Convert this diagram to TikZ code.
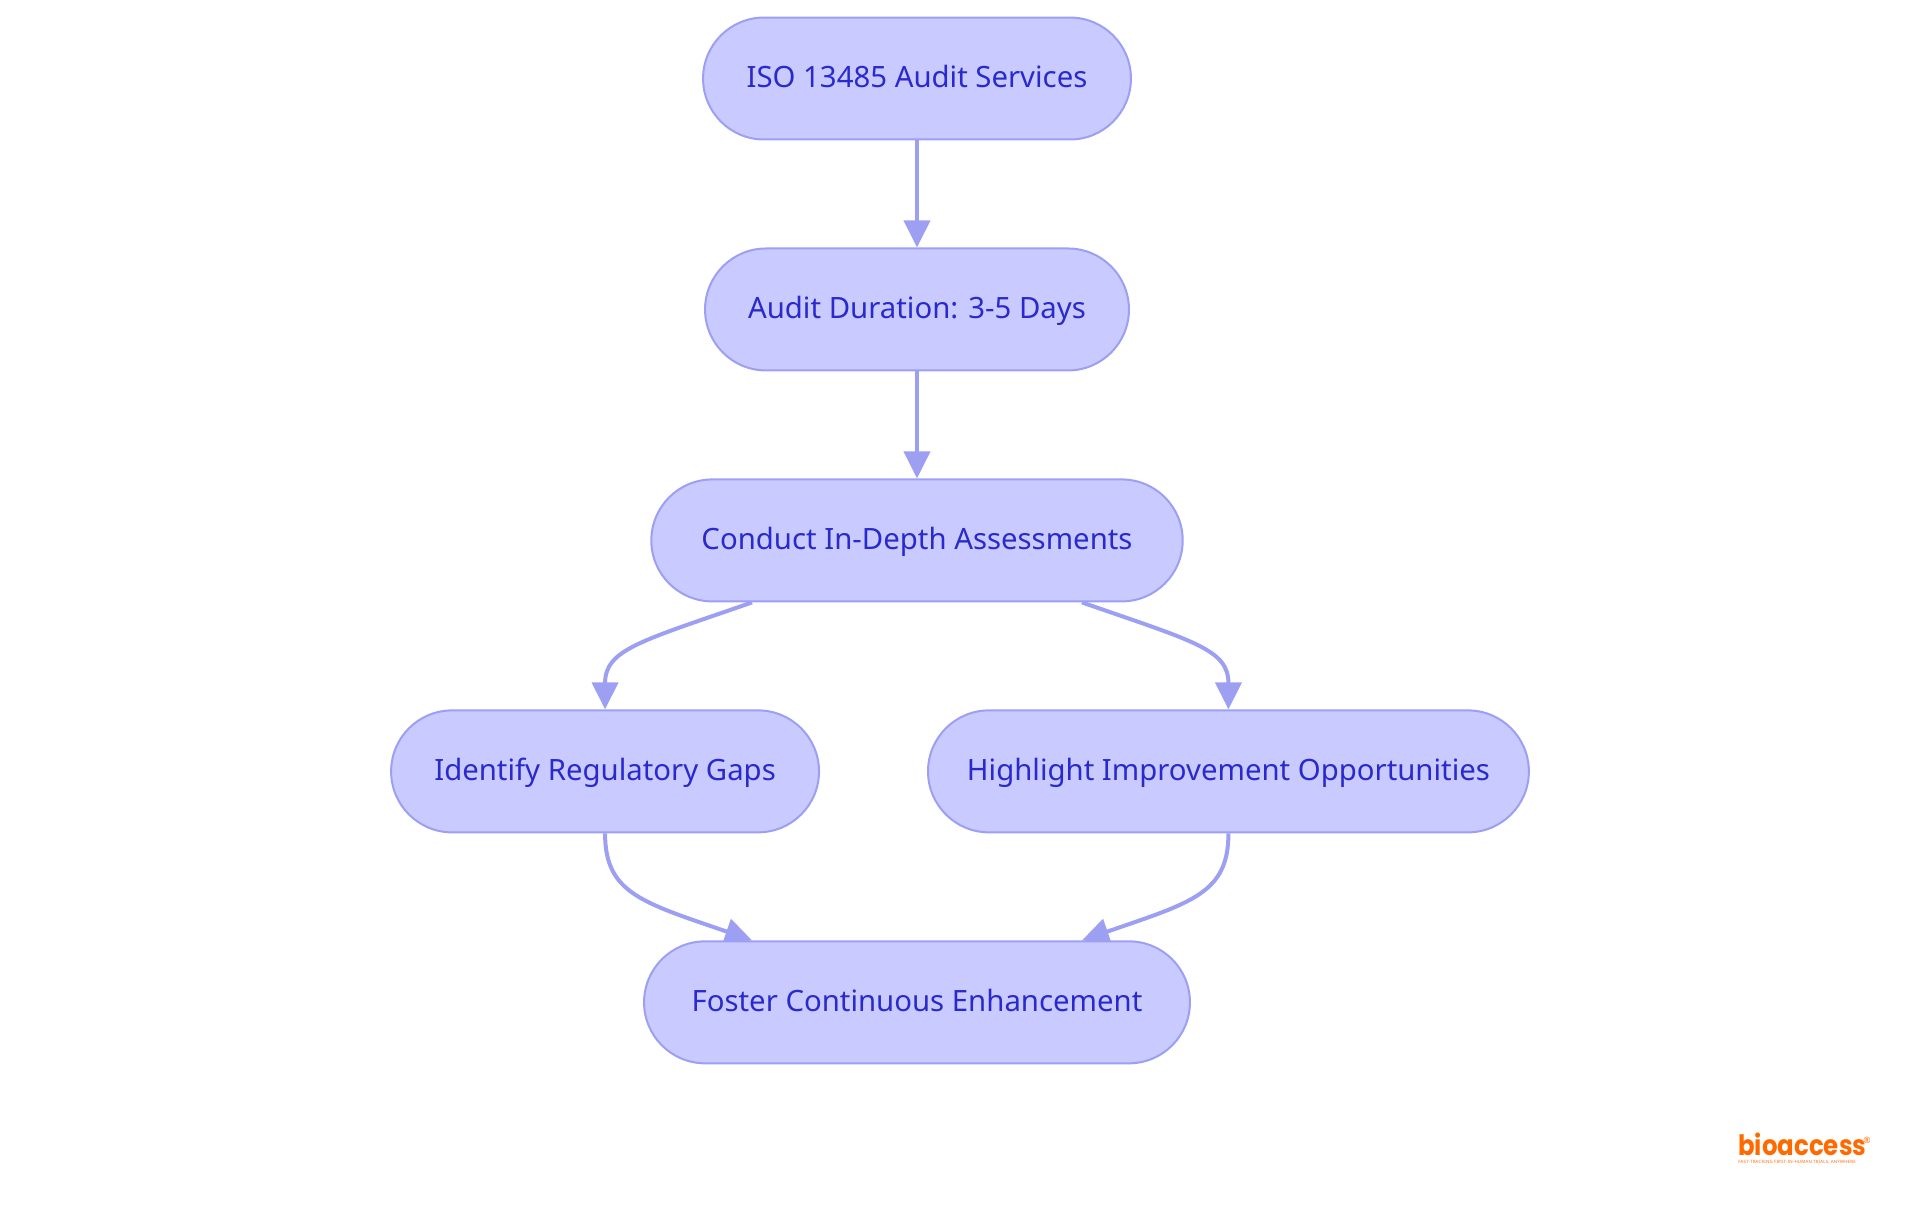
\documentclass[tikz,border=0pt]{standalone}
\usepackage{fontspec}
\setmainfont{Noto Sans}
\newfontfamily\logofont{Poppins}[UprightFont=* Bold,FakeStretch=0.87]
\newfontfamily\taglinefont{Noto Sans}[LetterSpace=4]
\usetikzlibrary{positioning,arrows.meta,backgrounds}
\definecolor{pillfill}{HTML}{C9CAFF}
\definecolor{pillline}{HTML}{9C9FF2}
\definecolor{pilltext}{HTML}{2A2ACC}
\definecolor{logoorange}{HTML}{FF6A00}

\begin{document}
\begin{tikzpicture}[
    x=0.02cm, y=-0.02cm,
    pill/.style={rectangle, draw=pillline, line width=0.04cm, fill=pillfill, rounded corners=1.22cm,
        minimum height=2.44cm, inner sep=0pt, text centered, text=pilltext,
        text height=0.5cm, text depth=0.14cm,
        font=\fontsize{16.7}{20}\selectfont},
    link/.style={draw=pillline, line width=0.08cm, -{Triangle[width=0.52cm,length=0.54cm]}},
    node distance=2.14cm
]
\useasboundingbox (0,0) rectangle (1920,1215);

\node [pill, minimum width=8.56cm] (services) at (917,78.5) {ISO 13485 Audit Services};
\node [pill, minimum width=8.48cm, below=of services] (duration) {Audit Duration: 3-5 Days};
\node [pill, minimum width=10.63cm, below=of duration] (conduct) {Conduct In-Depth Assessments};
\node [pill, minimum width=8.56cm, below=of conduct, xshift=-6.24cm] (gaps) {Identify Regulatory Gaps};
\node [pill, minimum width=12.02cm, below=of conduct, xshift=6.23cm] (highlight) {Highlight Improvement Opportunities};
\node [pill, minimum width=10.92cm, below=of conduct, yshift=-4.62cm] (foster) {Foster Continuous Enhancement};

% logo
\node [text=logoorange, inner sep=0pt, anchor=base west, font=\logofont\fontsize{16}{16}\selectfont] (logo) at (1738,1155) {bioaccess};
\node [text=logoorange, inner sep=0pt, anchor=base west, font=\taglinefont\fontsize{2.5}{3}\selectfont] (tagline) at (1738,1163.5) {FAST-TRACKING FIRST-IN-HUMAN TRIALS, ANYWHERE};
\node [text=logoorange, inner sep=0pt, font=\fontsize{5}{5}\selectfont] (regmark) at (1867,1140) {®};

\begin{scope}[on background layer]
\draw [link] (services) -- (duration);
\draw [link] (duration) -- (conduct);
\draw [link] ([xshift=-3.3cm]conduct.south) .. controls +(-112,39) and +(0,-60) .. (gaps.north);
\draw [link] ([xshift=3.3cm]conduct.south) .. controls +(112,39) and +(0,-60) .. (highlight.north);
\draw [link] (gaps.south) .. controls +(0,60) and +(-110,-38) .. ([xshift=-3.3cm]foster.north);
\draw [link] (highlight.south) .. controls +(0,60) and +(110,-38) .. ([xshift=3.3cm]foster.north);
\end{scope}

\end{tikzpicture}
\end{document}
